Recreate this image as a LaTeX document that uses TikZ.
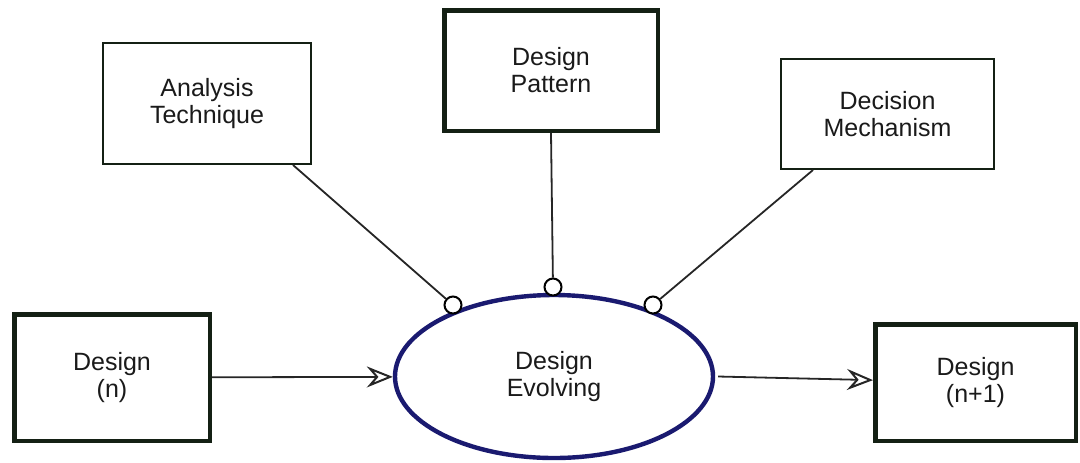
\documentclass[tikz,border=0pt]{standalone}
\usepackage{fontspec}
\setmainfont{Liberation Sans}
\usetikzlibrary{shapes.geometric,arrows.meta,calc}
\definecolor{boxline}{HTML}{142014}
\definecolor{evline}{HTML}{1A1A70}
\definecolor{txt}{HTML}{1A1A1A}
\begin{document}
\begin{tikzpicture}[x=0.5pt,y=-0.5pt,
  lbl/.style={align=center,text=txt,font=\fontsize{12.5pt}{13.5pt}\selectfont,inner sep=0pt},
  thickbox/.style={lbl,draw=boxline,line width=2.25pt,rectangle,fill=white},
  thinbox/.style={lbl,draw=boxline,line width=1pt,rectangle,fill=white},
  evbox/.style={lbl,draw=evline,line width=2.2pt,ellipse,fill=white},
  port/.style={circle,draw=black,fill=white,line width=1pt,minimum size=8.5pt,inner sep=0pt},
  conn/.style={draw=black!85,line width=0.9pt},
  arr/.style={draw=black!85,line width=0.9pt,-{Stealth[open,length=13pt,width=10.5pt,inset=4.5pt,line width=1pt]}}]
\useasboundingbox (0,0) rectangle (1080,462);
\node[thinbox,minimum width=104pt,minimum height=60.5pt] (at) at (207,103.5) {Analysis\\Technique};
\node[thickbox,minimum width=106.75pt,minimum height=60.25pt] (dp) at (551,70.5) {Design\\Pattern};
\node[thinbox,minimum width=106.5pt,minimum height=55pt] (dm) at (887.5,114) {Decision\\Mechanism};
\node[thickbox,minimum width=97.75pt,minimum height=63.25pt] (dn) at (112,377.5) {Design\\(n)};
\node[thickbox,minimum width=100.25pt,minimum height=58.25pt] (dn1) at (975.5,382.5) {Design\\(n+1)};
\node[evbox,minimum width=159pt,minimum height=81.5pt] (ev) at (554,376.5) {Design\\Evolving};
\coordinate (atb) at ([xshift=43pt]at.south);
\coordinate (dmb) at ([xshift=-37.25pt]dm.south);
\node[port] (p1) at (453,305) {};
\node[port] (p2) at (553,287) {};
\node[port] (p3) at (653,305) {};
\draw[conn] (atb) -- (p1);
\draw[conn] (dp.south) -- (p2);
\draw[conn] (dmb) -- (p3);
\draw[arr] (dn) -- (ev);
\draw[arr] ([xshift=1.5pt]ev.east) -- (dn1);
\end{tikzpicture}
\end{document}
